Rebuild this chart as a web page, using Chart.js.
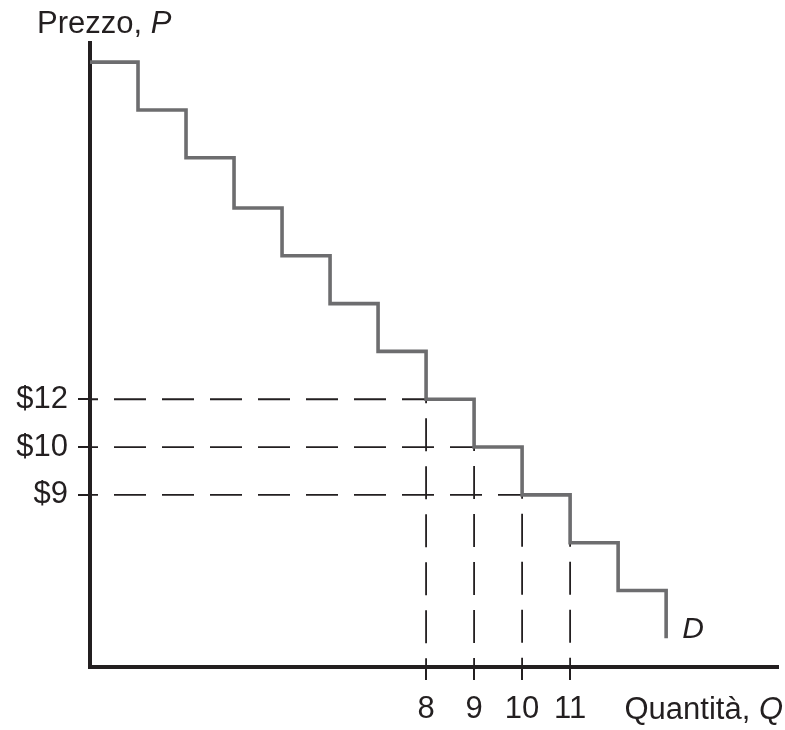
<!DOCTYPE html>
<html>
<head>
<meta charset="utf-8">
<script src="https://cdn.jsdelivr.net/npm/chart.js@4/dist/chart.umd.min.js"></script>
<style>
  html, body { margin: 0; padding: 0; background: #fff; }
  #wrap { width: 785px; height: 730px; position: relative; }
</style>
</head>
<body>
<div id="wrap"><canvas id="demandChart"></canvas></div>
<script>
// Curva di domanda a gradini (altezza dei gradini in unità del grafico)
const quantities = [1, 2, 3, 4, 5, 6, 7, 8, 9, 10, 11, 12, 13];
const priceLevels = [12.65, 11.65, 10.65, 9.6, 8.6, 7.6, 6.6, 5.6, 4.6, 3.6, 2.6, 1.6, 0.6];

// Tacche degli assi
const priceTicks = [5.6, 4.6, 3.6];
const priceTickLabels = ['$12', '$10', '$9'];
const quantityTicks = [8, 9, 10, 11];

const INK = '#231f20';
const STEP = '#6d6d6f';
const FONT = "'Liberation Sans', Arial, Helvetica, sans-serif";

// Linee tratteggiate orizzontali: dall'asse fino all'angolo del gradino
const hGuides = priceTicks.map(level => {
    const q = quantities[priceLevels.indexOf(level)];
    return [{ x: quantities[0], y: level }, { x: q, y: level }];
});
// Linee tratteggiate verticali: dall'angolo del gradino fino all'asse
const vGuides = quantityTicks.map(q => {
    const level = priceLevels[quantities.indexOf(q)];
    return [{ x: q, y: level }, { x: q, y: 0 }];
});

const guideSets = [
    ...hGuides.map(d => ({
        data: d, borderColor: INK, borderWidth: 1.8, pointRadius: 0,
        borderDash: [32, 16], borderDashOffset: 24, order: 2
    })),
    ...vGuides.map(d => ({
        data: d, borderColor: INK, borderWidth: 1.8, pointRadius: 0,
        borderDash: [33, 15], borderDashOffset: 29, order: 2
    }))
];

const labelsPlugin = {
    id: 'axisLabels',
    afterDraw(chart) {
        const { ctx, chartArea, scales } = chart;
        const drawMixed = (parts, x, y, align) => {
            ctx.save();
            ctx.fillStyle = INK;
            ctx.textBaseline = 'alphabetic';
            let total = 0;
            parts.forEach(p => { ctx.font = p.font; total += ctx.measureText(p.text).width; });
            let cx = align === 'right' ? x - total : x;
            parts.forEach(p => {
                ctx.font = p.font;
                ctx.fillText(p.text, cx, y);
                cx += ctx.measureText(p.text).width;
            });
            ctx.restore();
        };
        const normal = '31px ' + FONT;
        const italic = 'italic 31px ' + FONT;

        drawMixed([{ text: 'Prezzo, ', font: normal }, { text: 'P', font: italic }],
            chartArea.left - 53, chartArea.top - 10, 'left');
        drawMixed([{ text: 'Quantità, ', font: normal }, { text: 'Q', font: italic }],
            chart.width - 2, chartArea.bottom + 52, 'right');

        const lastQ = quantities[quantities.length - 1];
        const lastP = priceLevels[priceLevels.length - 1];
        drawMixed([{ text: 'D', font: 'italic 30px ' + FONT }],
            scales.x.getPixelForValue(lastQ) + 16, scales.y.getPixelForValue(lastP), 'left');
    }
};

new Chart(document.getElementById('demandChart').getContext('2d'), {
    type: 'line',
    data: {
        datasets: [
            {
                data: quantities.map((q, i) => ({ x: q, y: priceLevels[i] })),
                borderColor: STEP,
                borderWidth: 3.6,
                stepped: 'before',
                pointRadius: 0,
                borderJoinStyle: 'miter',
                order: 1
            },
            ...guideSets
        ]
    },
    options: {
        responsive: true,
        maintainAspectRatio: false,
        animation: false,
        layout: { padding: { top: 43, right: 7, left: 0, bottom: 0 } },
        plugins: { legend: { display: false }, tooltip: { enabled: false } },
        scales: {
            x: {
                type: 'linear',
                min: 1,
                max: 15.33,
                afterBuildTicks: scale => { scale.ticks = quantityTicks.map(v => ({ value: v })); },
                afterFit: scale => { scale.height = 63; },
                ticks: {
                    color: INK,
                    font: { family: FONT, size: 31 },
                    padding: 11,
                    maxRotation: 0,
                    autoSkip: false,
                    callback: v => String(v)
                },
                grid: { drawOnChartArea: false, tickLength: 13, lineWidth: 2, color: INK },
                border: { color: INK, width: 4 }
            },
            y: {
                type: 'linear',
                min: 0,
                max: 13.05,
                afterBuildTicks: scale => { scale.ticks = priceTicks.map(v => ({ value: v })); },
                afterFit: scale => { scale.width = 90; },
                ticks: {
                    color: INK,
                    font: { family: FONT, size: 31 },
                    padding: 10,
                    autoSkip: false,
                    callback: v => priceTickLabels[priceTicks.indexOf(v)]
                },
                grid: { drawOnChartArea: false, tickLength: 12, lineWidth: 2, color: INK },
                border: { color: INK, width: 4 }
            }
        }
    },
    plugins: [labelsPlugin]
});
</script>
</body>
</html>
